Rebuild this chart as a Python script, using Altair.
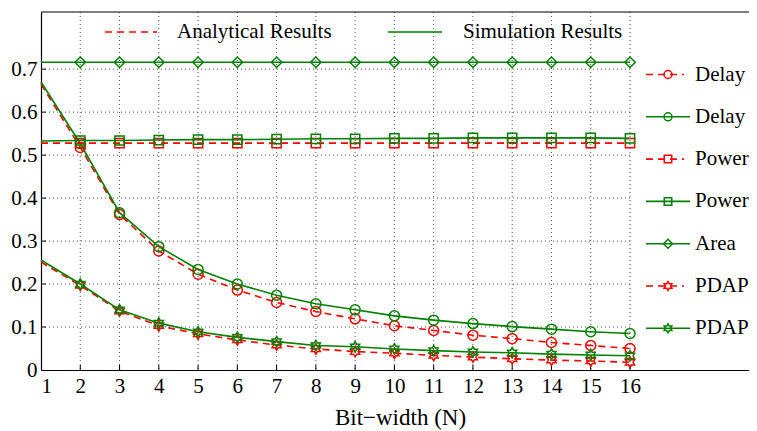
import altair as alt
import pandas as pd

# ---------------- data ----------------
N = list(range(1, 17))
delay_ana = [0.665, 0.518, 0.362, 0.277, 0.223, 0.186, 0.157, 0.136, 0.119, 0.103, 0.092, 0.081, 0.073, 0.064, 0.057, 0.050]
delay_sim = [0.670, 0.527, 0.366, 0.287, 0.234, 0.200, 0.174, 0.154, 0.140, 0.126, 0.116, 0.108, 0.101, 0.095, 0.089, 0.085]
power_ana = [0.528, 0.528, 0.528, 0.528, 0.528, 0.528, 0.528, 0.528, 0.528, 0.528, 0.528, 0.528, 0.528, 0.528, 0.528, 0.528]
power_sim = [0.533, 0.534, 0.534, 0.535, 0.536, 0.536, 0.537, 0.538, 0.538, 0.539, 0.539, 0.540, 0.540, 0.540, 0.540, 0.539]
area_sim = [0.716, 0.716, 0.716, 0.716, 0.716, 0.716, 0.716, 0.716, 0.716, 0.716, 0.716, 0.716, 0.716, 0.716, 0.716, 0.716]
pdap_ana = [0.251, 0.197, 0.137, 0.103, 0.084, 0.070, 0.058, 0.049, 0.043, 0.039, 0.034, 0.030, 0.026, 0.023, 0.021, 0.018]
pdap_sim = [0.256, 0.200, 0.140, 0.109, 0.089, 0.076, 0.066, 0.057, 0.054, 0.049, 0.045, 0.042, 0.040, 0.037, 0.035, 0.033]

y_ticks = [0, 0.1, 0.2, 0.3, 0.4, 0.5, 0.6, 0.7]
legend_labels = ["Delay", "Delay", "Power", "Power", "Area", "PDAP", "PDAP"]
top_legend_labels = ["Analytical Results", "Simulation Results"]

# ---------------- styling ----------------
RED = "#ff0000"
GREEN = "#008000"
FONT = "Liberation Serif"
FS = 21
DASH = [7, 5]
HEX = ("M0,-1L0.289,-0.5L0.866,-0.5L0.577,0L0.866,0.5L0.289,0.5L0,1"
       "L-0.289,0.5L-0.866,0.5L-0.577,0L-0.866,-0.5L-0.289,-0.5Z")

W, H = 708, 358
XMAX = 1 + 15 * W / 589.0
YMAX = 0.833

xs = alt.Scale(domain=[1, XMAX], nice=False, zero=False)
ys = alt.Scale(domain=[0, YMAX], nice=False)

X_AX = alt.Axis(values=N, labelFont=FONT, labelFontSize=FS, labelColor="black",
                ticks=False, grid=False, domainColor="black", domainWidth=1.2,
                labelPadding=5, title="Bit\u2212width (N)", titleFont=FONT,
                titleFontSize=23, titleFontWeight="normal", titleColor="black",
                titleX=359, titleY=54, titleBaseline="alphabetic")
Y_AX = alt.Axis(values=y_ticks, labelFont=FONT, labelFontSize=FS, labelColor="black",
                ticks=False, grid=False, domainColor="black", domainWidth=1.2,
                labelPadding=4, title=None,
                labelExpr="datum.value == 0 ? '0' : format(datum.value, '.1f')")


def X(field="N"):
    return alt.X(field + ":Q", scale=xs, axis=X_AX)


def Y(field="v"):
    return alt.Y(field + ":Q", scale=ys, axis=Y_AX)


layers = []

# grid
vgrid = pd.DataFrame({"N": N[1:]})
hgrid = pd.DataFrame({"v": y_ticks[1:]})
layers.append(
    alt.Chart(vgrid).mark_rule(color="#555555", strokeDash=[1, 3], strokeWidth=1).encode(
        x=X(), y=alt.value(0), y2=alt.value(H))
)
layers.append(
    alt.Chart(hgrid).mark_rule(color="#555555", strokeDash=[1, 3], strokeWidth=1).encode(
        y=Y(), x=alt.datum(1, scale=xs, axis=X_AX), x2=alt.datum(16))
)
# inward ticks
layers.append(
    alt.Chart(vgrid).mark_rule(color="black", strokeWidth=1).encode(
        x=X(), y=alt.value(H), y2=alt.value(H - 5))
)
layers.append(
    alt.Chart(hgrid).mark_rule(color="black", strokeWidth=1).encode(
        y=Y(), x=alt.value(0), x2=alt.value(5))
)
# top frame
one = pd.DataFrame({"a": [0]})
layers.append(
    alt.Chart(one).mark_rule(color="black", strokeWidth=1.2).encode(
        x=alt.value(0), x2=alt.value(W), y=alt.value(0))
)


def series(values, color, dashed, shape, size):
    df = pd.DataFrame({"N": N, "v": values})
    lk = dict(color=color, strokeWidth=1.6)
    if dashed:
        lk["strokeDash"] = DASH
    line = alt.Chart(df).mark_line(**lk).encode(x=X(), y=Y())
    pts = alt.Chart(df).transform_filter("datum.N > 1").mark_point(
        shape=shape, size=size, color=color, filled=False, strokeWidth=1.5, opacity=1).encode(
        x=X(), y=Y())
    return [line, pts]


layers += series(delay_ana, RED, True, "circle", 100)
layers += series(delay_sim, GREEN, False, "circle", 100)
layers += series(power_ana, RED, True, "square", 85)
layers += series(power_sim, GREEN, False, "square", 85)
layers += series(area_sim, GREEN, False, "diamond", 110)
layers += series(pdap_ana, RED, True, HEX, 110)
layers += series(pdap_sim, GREEN, False, HEX, 110)

# right legend
leg_styles = [(RED, True, "circle", 64), (GREEN, False, "circle", 64),
              (RED, True, "square", 56), (GREEN, False, "square", 56),
              (GREEN, False, "diamond", 80), (RED, True, HEX, 80), (GREEN, False, HEX, 80)]
for i, (lab, (c, d, s, sz)) in enumerate(zip(legend_labels, leg_styles)):
    yy = 62.5 + i * 42.3
    lk = dict(color=c, strokeWidth=1.6)
    if d:
        lk["strokeDash"] = DASH
    layers.append(alt.Chart(one).mark_rule(**lk).encode(
        x=alt.value(605), x2=alt.value(649 if not d else 643), y=alt.value(yy)))
    layers.append(alt.Chart(one).mark_point(shape=s, size=sz, color=c, filled=False,
                                            strokeWidth=1.5, opacity=1).encode(
        x=alt.value(627), y=alt.value(yy)))
    layers.append(alt.Chart(one).mark_text(text=lab, font=FONT, fontSize=FS, align="left",
                                           baseline="middle", color="black").encode(
        x=alt.value(654), y=alt.value(yy)))

# top legend
layers.append(alt.Chart(one).mark_rule(color=RED, strokeWidth=1.6, strokeDash=DASH).encode(
    x=alt.value(64), x2=alt.value(116), y=alt.value(20)))
layers.append(alt.Chart(one).mark_text(text=top_legend_labels[0], font=FONT, fontSize=FS,
                                       align="left", baseline="middle", color="black").encode(
    x=alt.value(136), y=alt.value(20)))
layers.append(alt.Chart(one).mark_rule(color=GREEN, strokeWidth=1.6).encode(
    x=alt.value(347), x2=alt.value(401), y=alt.value(20)))
layers.append(alt.Chart(one).mark_text(text=top_legend_labels[1], font=FONT, fontSize=FS,
                                       align="left", baseline="middle", color="black").encode(
    x=alt.value(422), y=alt.value(20)))

chart = alt.layer(*layers).properties(
    width=W, height=H,
    padding={"left": 33, "top": 4, "right": 0, "bottom": 64},
    autosize=alt.AutoSizeParams(type="none"),
    background="white",
).configure_view(strokeWidth=0, stroke="transparent")

chart.save("out.html", embed_options={"renderer": "svg", "actions": False})
